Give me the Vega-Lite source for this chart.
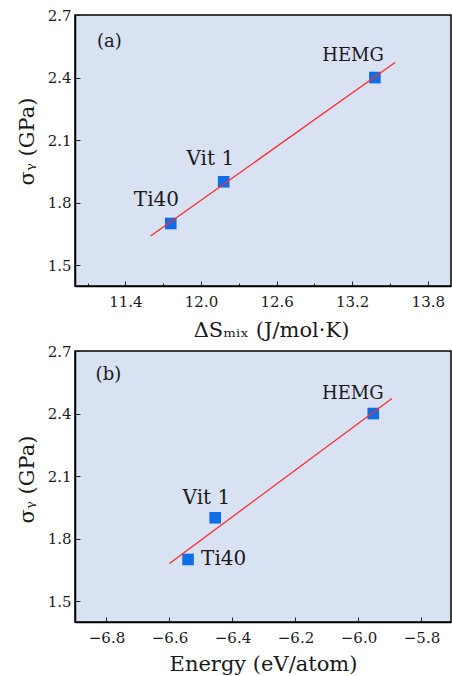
{
  "$schema": "https://vega.github.io/schema/vega-lite/v6.json",
  "background": "white",
  "padding": {"left": 15, "top": 7, "right": 0, "bottom": 0},
  "bounds": "flush",
  "spacing": 65,
  "datasets": {
    "ptsA": [
      {"name": "Ti40", "x": 11.76, "y": 1.70},
      {"name": "Vit 1", "x": 12.18, "y": 1.90},
      {"name": "HEMG", "x": 13.38, "y": 2.40}
    ],
    "fitA": [
      {"x": 11.6, "y": 1.640},
      {"x": 13.54, "y": 2.472}
    ],
    "labA": [
      {"label": "(a)", "x": 11.273, "y": 2.57},
      {"label": "Ti40", "x": 11.646, "y": 1.812},
      {"label": "Vit 1", "x": 12.074, "y": 2.009},
      {"label": "HEMG", "x": 13.207, "y": 2.503}
    ],
    "ptsB": [
      {"name": "Ti40", "x": -6.541, "y": 1.70},
      {"name": "Vit 1", "x": -6.455, "y": 1.90},
      {"name": "HEMG", "x": -5.953, "y": 2.40}
    ],
    "fitB": [
      {"x": -6.6, "y": 1.681},
      {"x": -5.894, "y": 2.472}
    ],
    "labB": [
      {"label": "(b)", "x": -6.794, "y": 2.585},
      {"label": "Vit 1", "x": -6.483, "y": 1.993},
      {"label": "Ti40", "x": -6.428, "y": 1.70},
      {"label": "HEMG", "x": -6.018, "y": 2.494}
    ]
  },
  "config": {
    "font": "DejaVu Serif",
    "view": {"fill": "#d9e2f3", "stroke": "#000000", "strokeWidth": 1.5},
    "axis": {
      "grid": false,
      "domainColor": "#000000",
      "domainWidth": 1.5,
      "tickColor": "#222222",
      "tickWidth": 1,
      "labelFont": "DejaVu Serif",
      "labelFontSize": 15,
      "labelColor": "#1a1a1a",
      "labelOverlap": false,
      "labelFlush": false,
      "titleFont": "DejaVu Serif",
      "titleFontSize": 21,
      "titleFontWeight": "normal",
      "titleColor": "#1a1a1a"
    }
  },
  "vconcat": [
    {
      "width": 376,
      "height": 271,
      "layer": [
        {
          "data": {"name": "ptsA"},
          "mark": {"type": "square", "size": 135, "opacity": 1, "color": "#0f6ee6"},
          "encoding": {
            "x": {
              "field": "x", "type": "quantitative",
              "scale": {"domain": [11.0, 13.984], "nice": false, "zero": false},
              "axis": {
                "title": "ΔSₘᵢₓ (J/mol·K)",
                "titleX": 196,
                "titlePadding": 8,
                "values": [11.1, 11.4, 11.7, 12.0, 12.3, 12.6, 12.9, 13.2, 13.5, 13.8],
                "format": ".1f",
                "labelExpr": "round(datum.value*10) % 6 == 0 ? datum.label : ''",
                "tickSize": {"condition": {"test": "round(datum.value*10) % 6 == 0", "value": -5}, "value": -3},
                "labelPadding": 13
              }
            },
            "y": {
              "field": "y", "type": "quantitative",
              "scale": {"domain": [1.4, 2.7], "nice": false, "zero": false},
              "axis": {
                "title": "σᵧ (GPa)",
                "titleY": 126,
                "titlePadding": 10,
                "values": [1.5, 1.65, 1.8, 1.95, 2.1, 2.25, 2.4, 2.55, 2.7],
                "format": ".1f",
                "labelExpr": "round(datum.value*100) % 30 == 0 ? datum.label : ''",
                "tickSize": {"condition": {"test": "round(datum.value*100) % 30 == 0", "value": -5}, "value": -3},
                "labelPadding": 9
              }
            }
          }
        },
        {
          "data": {"name": "labA"},
          "mark": {"type": "text", "align": "center", "baseline": "middle", "font": "DejaVu Serif", "color": "#1a1a1a"},
          "encoding": {
            "x": {"field": "x", "type": "quantitative"},
            "y": {"field": "y", "type": "quantitative"},
            "text": {"field": "label"},
            "size": {"condition": {"test": "datum.label === 'Ti40' || datum.label === 'Vit 1'", "value": 20}, "value": 18}
          }
        },
        {
          "data": {"name": "fitA"},
          "mark": {"type": "line", "color": "#ff2a2a", "strokeWidth": 1.3},
          "encoding": {
            "x": {"field": "x", "type": "quantitative"},
            "y": {"field": "y", "type": "quantitative"}
          }
        }
      ]
    },
    {
      "width": 376,
      "height": 271,
      "layer": [
        {
          "data": {"name": "ptsB"},
          "mark": {"type": "square", "size": 135, "opacity": 1, "color": "#0f6ee6"},
          "encoding": {
            "x": {
              "field": "x", "type": "quantitative",
              "scale": {"domain": [-6.9, -5.7063], "nice": false, "zero": false},
              "axis": {
                "title": "Energy (eV/atom)",
                "titlePadding": 8,
                "values": [-6.8, -6.7, -6.6, -6.5, -6.4, -6.3, -6.2, -6.1, -6.0, -5.9, -5.8],
                "format": ".1f",
                "labelExpr": "abs(round(datum.value*10)) % 2 == 0 ? datum.label : ''",
                "tickSize": {"condition": {"test": "abs(round(datum.value*10)) % 2 == 0", "value": -5}, "value": -3},
                "labelPadding": 13
              }
            },
            "y": {
              "field": "y", "type": "quantitative",
              "scale": {"domain": [1.4, 2.7], "nice": false, "zero": false},
              "axis": {
                "title": "σᵧ (GPa)",
                "titleY": 128,
                "titlePadding": 10,
                "values": [1.5, 1.65, 1.8, 1.95, 2.1, 2.25, 2.4, 2.55, 2.7],
                "format": ".1f",
                "labelExpr": "round(datum.value*100) % 30 == 0 ? datum.label : ''",
                "tickSize": {"condition": {"test": "round(datum.value*100) % 30 == 0", "value": -5}, "value": -3},
                "labelPadding": 9
              }
            }
          }
        },
        {
          "data": {"name": "labB"},
          "mark": {"type": "text", "align": "center", "baseline": "middle", "font": "DejaVu Serif", "color": "#1a1a1a"},
          "encoding": {
            "x": {"field": "x", "type": "quantitative"},
            "y": {"field": "y", "type": "quantitative"},
            "text": {"field": "label"},
            "size": {"condition": {"test": "datum.label === 'Ti40' || datum.label === 'Vit 1'", "value": 20}, "value": 18}
          }
        },
        {
          "data": {"name": "fitB"},
          "mark": {"type": "line", "color": "#ff2a2a", "strokeWidth": 1.3},
          "encoding": {
            "x": {"field": "x", "type": "quantitative"},
            "y": {"field": "y", "type": "quantitative"}
          }
        }
      ]
    }
  ]
}
